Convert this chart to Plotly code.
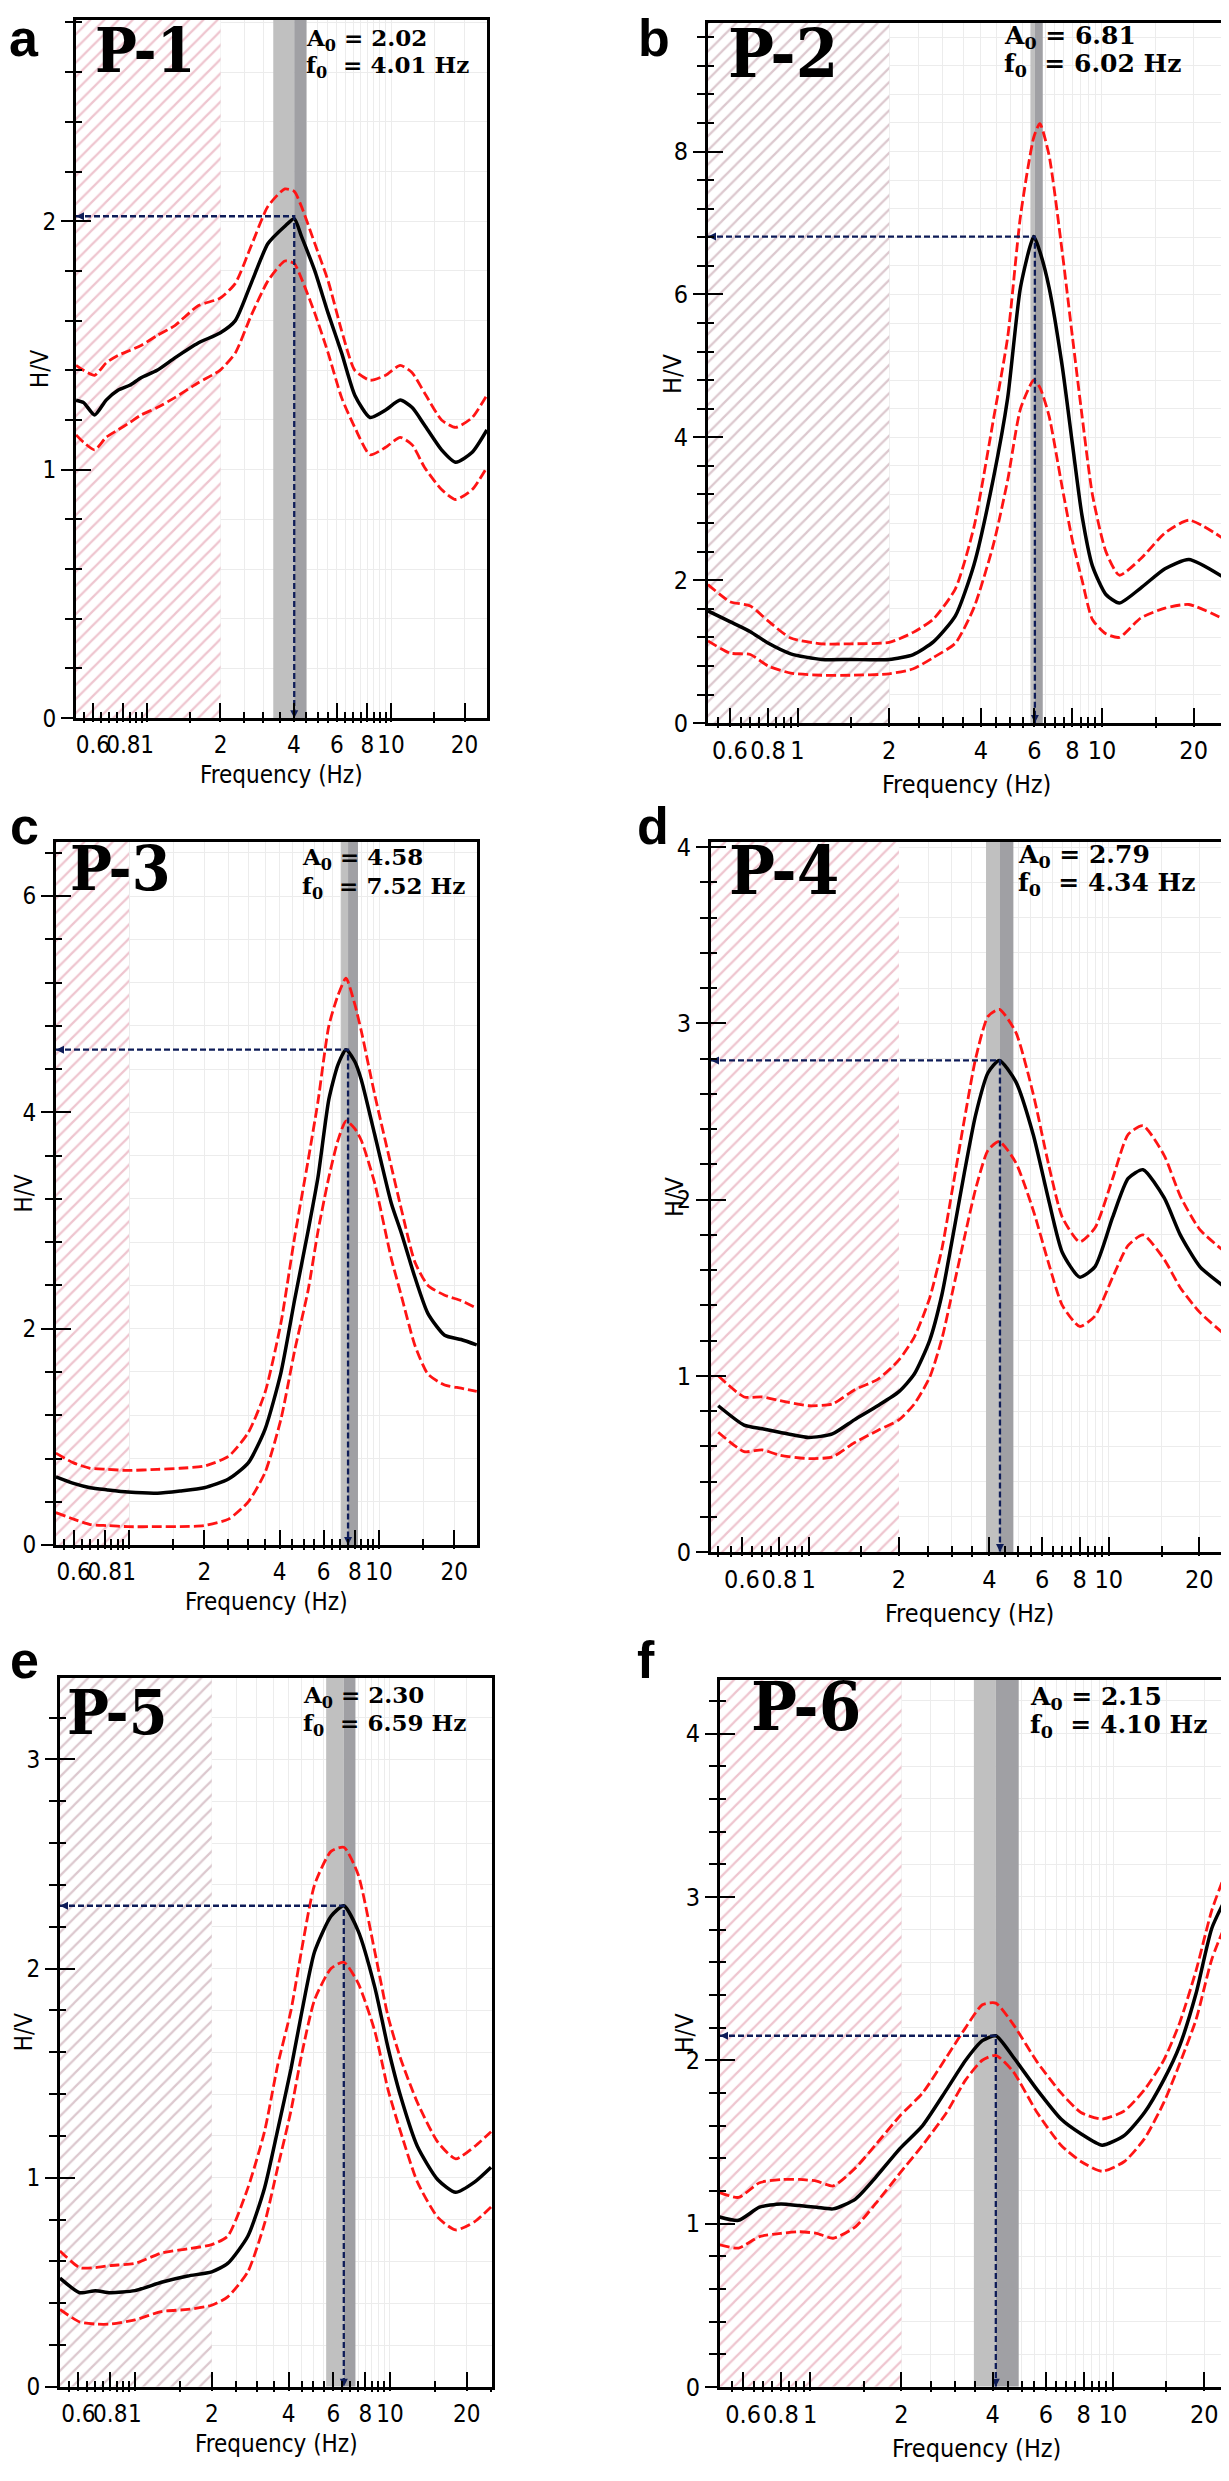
import math
import plotly.graph_objects as go

W, H = 1229, 2481

# ---------------- data ----------------
panel_names = ["P-1", "P-2", "P-3", "P-4", "P-5", "P-6"]
panel_letters = ["a", "b", "c", "d", "e", "f"]
A0 = [2.02, 6.81, 4.58, 2.79, 2.30, 2.15]
F0 = [4.01, 6.02, 7.52, 4.34, 6.59, 4.10]
F_LO = [3.29, 5.82, 7.05, 3.90, 5.62, 3.47]
F_HI = [4.50, 6.39, 8.24, 4.81, 7.32, 4.88]
WINDOW_END = [2, 2, 1, 2, 2, 2]

freq_p1 = [0.512, 0.55, 0.61, 0.68, 0.76, 0.85, 0.945, 1.1, 1.3, 1.62, 1.99, 2.3, 2.67, 3.13, 3.67, 4.01, 4.29, 4.87, 5.52, 6.27, 7.1, 8.2, 9.5, 10.9, 12.2, 13.7, 16.1, 18.4, 21.5, 24.7]
mean_p1 = [1.28, 1.27, 1.22, 1.28, 1.32, 1.34, 1.37, 1.40, 1.45, 1.51, 1.55, 1.60, 1.75, 1.91, 1.98, 2.01, 1.94, 1.80, 1.63, 1.47, 1.30, 1.21, 1.24, 1.28, 1.25, 1.18, 1.08, 1.03, 1.07, 1.16]
hi_p1 = [1.42, 1.40, 1.38, 1.43, 1.46, 1.48, 1.50, 1.54, 1.58, 1.66, 1.69, 1.75, 1.90, 2.06, 2.13, 2.12, 2.06, 1.91, 1.76, 1.56, 1.40, 1.36, 1.38, 1.42, 1.39, 1.31, 1.20, 1.17, 1.21, 1.30]
lo_p1 = [1.14, 1.11, 1.08, 1.13, 1.16, 1.19, 1.22, 1.25, 1.29, 1.35, 1.40, 1.47, 1.62, 1.76, 1.84, 1.83, 1.77, 1.63, 1.47, 1.29, 1.17, 1.06, 1.09, 1.13, 1.10, 1.01, 0.92, 0.88, 0.92, 1.01]

freq_p2 = [0.508, 0.6, 0.7, 0.8, 0.95, 1.2, 1.5, 2.0, 2.4, 2.8, 3.3, 3.8, 4.4, 4.9, 5.4, 5.97, 6.25, 6.7, 7.4, 8.0, 8.6, 9.3, 10.3, 11.4, 13.4, 16.1, 19.3, 25.3]
mean_p2 = [1.57, 1.42, 1.28, 1.12, 0.97, 0.89, 0.89, 0.89, 0.96, 1.14, 1.50, 2.22, 3.43, 4.55, 6.10, 6.81, 6.60, 6.10, 5.00, 3.90, 2.90, 2.20, 1.80, 1.68, 1.89, 2.16, 2.29, 2.03]
hi_p2 = [1.94, 1.70, 1.64, 1.43, 1.19, 1.11, 1.11, 1.13, 1.27, 1.46, 1.88, 2.75, 4.25, 5.40, 7.10, 8.20, 8.39, 7.95, 6.60, 5.40, 4.30, 3.20, 2.40, 2.07, 2.30, 2.66, 2.84, 2.57]
lo_p2 = [1.15, 0.98, 0.96, 0.80, 0.70, 0.67, 0.67, 0.69, 0.76, 0.92, 1.12, 1.62, 2.50, 3.40, 4.40, 4.80, 4.70, 4.30, 3.30, 2.55, 2.00, 1.45, 1.25, 1.20, 1.47, 1.61, 1.66, 1.45]

freq_p3 = [0.51, 0.6, 0.7, 0.82, 0.99, 1.3, 1.6, 2.0, 2.5, 3.0, 3.5, 4.05, 4.6, 5.2, 5.7, 6.3, 6.85, 7.38, 8.0, 8.5, 9.6, 11.2, 12.3, 13.9, 15.7, 18.3, 21.3, 24.6]
mean_p3 = [0.63, 0.57, 0.53, 0.51, 0.49, 0.48, 0.50, 0.53, 0.61, 0.76, 1.07, 1.59, 2.27, 2.90, 3.40, 4.12, 4.44, 4.58, 4.47, 4.30, 3.80, 3.16, 2.88, 2.48, 2.14, 1.94, 1.90, 1.85]
hi_p3 = [0.85, 0.76, 0.71, 0.70, 0.69, 0.70, 0.71, 0.73, 0.82, 1.04, 1.41, 2.05, 2.85, 3.55, 4.10, 4.80, 5.08, 5.24, 5.00, 4.75, 4.17, 3.50, 3.10, 2.62, 2.40, 2.31, 2.26, 2.19]
lo_p3 = [0.30, 0.24, 0.19, 0.18, 0.17, 0.17, 0.17, 0.18, 0.24, 0.40, 0.67, 1.16, 1.80, 2.35, 2.90, 3.40, 3.74, 3.92, 3.85, 3.74, 3.35, 2.65, 2.30, 1.85, 1.58, 1.48, 1.45, 1.42]

freq_p4 = [0.50, 0.61, 0.70, 0.80, 1.0, 1.2, 1.42, 1.7, 2.0, 2.25, 2.53, 2.78, 3.0, 3.3, 3.6, 3.96, 4.32, 4.9, 5.6, 6.3, 7.0, 8.0, 9.0, 10.3, 11.6, 13.0, 15.3, 17.3, 20.1, 24.5]
mean_p4 = [0.83, 0.72, 0.70, 0.68, 0.65, 0.67, 0.75, 0.83, 0.91, 1.01, 1.20, 1.46, 1.76, 2.15, 2.48, 2.72, 2.79, 2.67, 2.37, 2.00, 1.70, 1.56, 1.62, 1.90, 2.12, 2.17, 2.01, 1.80, 1.62, 1.50]
hi_p4 = [1.00, 0.88, 0.88, 0.86, 0.83, 0.84, 0.92, 0.98, 1.09, 1.22, 1.44, 1.72, 2.04, 2.45, 2.80, 3.04, 3.08, 2.95, 2.60, 2.20, 1.90, 1.76, 1.84, 2.12, 2.37, 2.42, 2.25, 2.02, 1.83, 1.70]
lo_p4 = [0.68, 0.57, 0.58, 0.55, 0.53, 0.54, 0.62, 0.69, 0.75, 0.84, 0.99, 1.21, 1.46, 1.78, 2.06, 2.28, 2.33, 2.21, 1.94, 1.64, 1.40, 1.28, 1.34, 1.56, 1.74, 1.80, 1.66, 1.50, 1.36, 1.23]

freq_p5 = [0.508, 0.607, 0.70, 0.80, 1.0, 1.27, 1.61, 2.0, 2.31, 2.77, 3.22, 3.63, 4.09, 4.49, 5.06, 5.87, 6.59, 7.5, 8.72, 9.83, 11.0, 12.8, 15.4, 18.1, 21.5, 24.9]
mean_p5 = [0.52, 0.45, 0.46, 0.45, 0.46, 0.50, 0.53, 0.55, 0.59, 0.72, 0.95, 1.23, 1.52, 1.78, 2.08, 2.25, 2.30, 2.18, 1.91, 1.62, 1.39, 1.15, 0.99, 0.93, 0.98, 1.05]
hi_p5 = [0.65, 0.57, 0.57, 0.58, 0.59, 0.64, 0.66, 0.68, 0.72, 0.95, 1.22, 1.54, 1.80, 2.08, 2.40, 2.56, 2.58, 2.45, 2.08, 1.77, 1.57, 1.36, 1.17, 1.09, 1.15, 1.22]
lo_p5 = [0.37, 0.31, 0.30, 0.30, 0.32, 0.36, 0.37, 0.39, 0.43, 0.55, 0.78, 1.05, 1.32, 1.58, 1.85, 2.00, 2.03, 1.93, 1.70, 1.42, 1.22, 0.98, 0.81, 0.75, 0.79, 0.86]

freq_p6 = [0.502, 0.58, 0.68, 0.80, 0.92, 1.05, 1.19, 1.41, 1.64, 1.98, 2.35, 2.82, 3.26, 3.7, 4.1, 4.68, 5.61, 6.73, 7.83, 9.2, 10.9, 12.7, 14.7, 16.6, 18.8, 21.2, 24.6]
mean_p6 = [1.04, 1.02, 1.10, 1.12, 1.11, 1.10, 1.09, 1.15, 1.28, 1.46, 1.60, 1.82, 2.00, 2.12, 2.15, 2.02, 1.82, 1.64, 1.55, 1.48, 1.54, 1.68, 1.88, 2.09, 2.41, 2.81, 3.06]
hi_p6 = [1.19, 1.16, 1.25, 1.27, 1.27, 1.26, 1.23, 1.34, 1.48, 1.66, 1.80, 2.02, 2.20, 2.34, 2.35, 2.22, 1.99, 1.80, 1.68, 1.64, 1.69, 1.82, 2.00, 2.23, 2.55, 2.92, 3.24]
lo_p6 = [0.87, 0.85, 0.92, 0.94, 0.95, 0.94, 0.91, 0.98, 1.12, 1.31, 1.48, 1.68, 1.88, 2.00, 2.03, 1.93, 1.68, 1.48, 1.38, 1.32, 1.38, 1.52, 1.74, 1.98, 2.25, 2.62, 2.92]

FREQ = [freq_p1, freq_p2, freq_p3, freq_p4, freq_p5, freq_p6]
MEAN = [mean_p1, mean_p2, mean_p3, mean_p4, mean_p5, mean_p6]
HI = [hi_p1, hi_p2, hi_p3, hi_p4, hi_p5, hi_p6]
LO = [lo_p1, lo_p2, lo_p3, lo_p4, lo_p5, lo_p6]

x_ticks = [0.6, 0.8, 1, 2, 4, 6, 8, 10, 20]
x_tick_text = ["0.6", "0.8", "1", "2", "4", "6", "8", "10", "20"]
x_minor = [0.5, 0.55, 0.65, 0.7, 0.75, 0.85, 0.9, 0.95, 1.5, 2.5, 3, 3.5, 4.5, 5, 5.5,
           6.5, 7, 7.5, 8.5, 9, 9.5, 15, 25]
y_major = [[0, 1, 2], [0, 2, 4, 6, 8], [0, 2, 4, 6], [0, 1, 2, 3, 4], [0, 1, 2, 3], [0, 1, 2, 3, 4]]
y_minor_step = [0.2, 0.4, 0.4, 0.2, 0.2, 0.2]
y_top = [2.81, 9.8, 6.5, 4.03, 3.39, 4.33]
x_log_range = [[-0.291, 1.393], [-0.294, 1.404], [-0.292, 1.392],
               [-0.325, 1.397], [-0.294, 1.400], [-0.298, 1.396]]

# ---------------- layout geometry (px: left, right, top, bottom) ----------------
BOX = [(68, 479, 3, 708), (700, 1217, 6, 713), (48, 469, 833, 1543),
       (703, 1220, 833, 1550), (52, 484, 1677, 2393), (712, 1225, 1679, 2393)]
LETTER_POS = [(16, 50), (646, 50), (16, 845), (645, 845), (16, 1688), (638, 1688)]
NAME_POS = [(137, 68), (775, 74), (112, 894), (776, 899), (109, 1746), (798, 1743)]
A0_POS = [(296, 31, 59), (994, 31, 59), (292, 859, 888), (1008, 858, 886),
          (293, 1705, 1733), (1020, 1708, 1736)]
FONT_SCALE = [1.0, 1.06, 1.0, 1.06, 1.0, 1.06]
TITLE_BASE = [68, 73, 68, 73, 68, 73]

HATCH_COL = ["rgb(222,140,160)", "rgb(185,145,158)", "rgb(222,140,160)",
             "rgb(222,140,160)", "rgb(185,145,158)", "rgb(222,140,160)"]
BAND_LIGHT = "rgb(192,192,192)"
BAND_DARK = "rgb(160,160,164)"
GRID = "rgb(236,236,236)"
RED = "rgb(255,20,20)"
NAVY = "rgb(14,28,88)"
SANS = "Liberation Sans Narrow, DejaVu Sans Condensed, Arial Narrow, sans-serif"
SERIF = "DejaVu Serif Condensed, DejaVu Serif, serif"


def px_x(v):
    return v / W


def px_y(v):
    return 1 - v / H


fig = go.Figure()
layout = dict(width=W, height=H, margin=dict(l=0, r=0, t=0, b=0),
              paper_bgcolor="white", plot_bgcolor="white", showlegend=False)
ann = []

for i in range(6):
    n = i + 1
    xa = "x" if n == 1 else f"x{n}"
    ya = "y" if n == 1 else f"y{n}"
    xo, yo = f"x{n + 6}", f"y{n + 6}"
    L, R, T, B = BOX[i]
    s = FONT_SCALE[i]
    tickfont = dict(family=SANS, size=round(24 * s), color="black")
    xmin = 10 ** x_log_range[i][0]
    ymax = y_top[i]
    common = dict(xaxis=xa, yaxis=ya, hoverinfo="skip", showlegend=False)

    # f0 +/- sigma bands
    fig.add_trace(go.Scatter(x=[F_LO[i], F0[i], F0[i], F_LO[i], F_LO[i]], y=[0, 0, ymax, ymax, 0],
                             fill="toself", fillcolor=BAND_LIGHT, mode="none", **common))
    fig.add_trace(go.Scatter(x=[F0[i], F_HI[i], F_HI[i], F0[i], F0[i]], y=[0, 0, ymax, ymax, 0],
                             fill="toself", fillcolor=BAND_DARK, mode="none", **common))
    # excluded window (hatched)
    fig.add_trace(go.Scatter(x=[xmin, WINDOW_END[i], WINDOW_END[i], xmin, xmin], y=[0, 0, ymax, ymax, 0],
                             fill="toself", fillcolor="white", mode="none",
                             fillpattern=dict(shape="/", fgcolor=HATCH_COL[i], bgcolor="white",
                                              size=10, solidity=0.22),
                             **common))
    # std curves and mean curve
    for arr in (HI[i], LO[i]):
        fig.add_trace(go.Scatter(x=FREQ[i], y=arr, mode="lines",
                                 line=dict(color=RED, width=2.8, dash="10px,4px", shape="spline", smoothing=0.6),
                                 **common))
    fig.add_trace(go.Scatter(x=FREQ[i], y=MEAN[i], mode="lines",
                             line=dict(color="black", width=3.5, shape="spline", smoothing=0.6), **common))
    # peak guide lines with arrow heads
    fig.add_trace(go.Scatter(x=[xmin, F0[i], F0[i]], y=[A0[i], A0[i], 0], mode="lines",
                             line=dict(color=NAVY, width=2.3, dash="6px,3px"), **common))
    fig.add_trace(go.Scatter(x=[xmin, F0[i]], y=[A0[i], 0], mode="markers", cliponaxis=False,
                             marker=dict(symbol=["arrow-left", "arrow-down"], size=8, color=NAVY,
                                         line=dict(width=0)),
                             **common))
    # dummy trace for overlay tick axes
    fig.add_trace(go.Scatter(x=[F0[i]], y=[0.1], mode="markers", marker=dict(opacity=0),
                             xaxis=xo, yaxis=yo, hoverinfo="skip", showlegend=False))

    xkey = "xaxis" if n == 1 else f"xaxis{n}"
    ykey = "yaxis" if n == 1 else f"yaxis{n}"
    layout[xkey] = dict(type="log", range=x_log_range[i], domain=[px_x(L), px_x(R)], anchor=ya,
                        showline=True, linecolor="black", linewidth=3, mirror=True,
                        ticks="inside", ticklen=15, tickwidth=2, tickcolor="black",
                        tickmode="array", tickvals=x_ticks, ticktext=x_tick_text, tickfont=tickfont,
                        tickangle=0, ticklabelstandoff=3,
                        showgrid=True, gridcolor=GRID, gridwidth=1, zeroline=False,
                        minor=dict(tickmode="array", tickvals=x_minor, ticks="inside", ticklen=6,
                                   tickwidth=1.5, tickcolor="black", showgrid=True, gridcolor=GRID,
                                   gridwidth=1))
    layout[ykey] = dict(range=[0, ymax], domain=[px_y(B), px_y(T)], anchor=xa,
                        showline=True, linecolor="black", linewidth=3, mirror=True,
                        ticks="outside", ticklen=12, tickwidth=2, tickcolor="black",
                        tickmode="array", tickvals=y_major[i], tickfont=tickfont, tickangle=0,
                        showgrid=True, gridcolor=GRID, gridwidth=1, zeroline=False,
                        minor=dict(dtick=y_minor_step[i], ticks="outside", ticklen=8, tickwidth=2,
                                   tickcolor="black", showgrid=True, gridcolor=GRID, gridwidth=1))
    layout[f"xaxis{n + 6}"] = dict(type="log", range=x_log_range[i], overlaying=xa, anchor=ya, side="bottom",
                                   showline=False, showgrid=False, zeroline=False,
                                   ticks="outside", ticklen=3, tickwidth=2, tickcolor="black",
                                   tickmode="array", tickvals=x_ticks, showticklabels=False,
                                   minor=dict(tickmode="array", tickvals=x_minor, ticks="outside",
                                              ticklen=4, tickwidth=1.5, tickcolor="black", showgrid=False))
    layout[f"yaxis{n + 6}"] = dict(range=[0, ymax], overlaying=ya, anchor=xa, side="left",
                                   showline=False, showgrid=False, zeroline=False,
                                   ticks="inside", ticklen=15, tickwidth=2, tickcolor="black",
                                   tickmode="array", tickvals=y_major[i], showticklabels=False,
                                   minor=dict(dtick=y_minor_step[i], ticks="inside", ticklen=6,
                                              tickwidth=2, tickcolor="black", showgrid=False))

    # texts (top of text box ~ baseline - 1.15 * font size)
    lx, lb = LETTER_POS[i]
    ann.append(dict(x=px_x(lx), y=px_y(lb - 1.15 * 52), xref="paper", yref="paper",
                    xanchor="center", yanchor="top", showarrow=False,
                    text=f"<b>{panel_letters[i]}</b>",
                    font=dict(family="Liberation Sans, Arial, sans-serif", size=52, color="black")))
    nx, nb = NAME_POS[i]
    nsz = round(62 * (1.1 if s > 1 else 1.0))
    ann.append(dict(x=px_x(nx), y=px_y(nb - 1.18 * nsz), xref="paper", yref="paper",
                    xanchor="center", yanchor="top", showarrow=False,
                    text=f"<b>{panel_names[i]}</b>",
                    font=dict(family=SERIF, size=nsz, color="black")))
    ax0, b1, b2 = A0_POS[i]
    asz = round(23 * (1.1 if s > 1 else 1.0))
    ann.append(dict(x=px_x(ax0), y=px_y(b1 - 1.15 * asz), xref="paper", yref="paper",
                    xanchor="left", yanchor="top", showarrow=False,
                    text=f"<b>A<sub>0</sub> = {A0[i]:.2f}</b>",
                    font=dict(family="DejaVu Serif, serif", size=asz, color="black")))
    ann.append(dict(x=px_x(ax0), y=px_y(b2 - 1.15 * asz), xref="paper", yref="paper",
                    xanchor="left", yanchor="top", showarrow=False,
                    text=f"<b>f<sub>0</sub>\u00a0\u00a0= {F0[i]:.2f} Hz</b>",
                    font=dict(family="DejaVu Serif, serif", size=asz, color="black")))
    # axis titles
    tsz = round(24 * s)
    ann.append(dict(x=px_x(max(L - 36, 16)), y=px_y((T + B) / 2), xref="paper", yref="paper",
                    xanchor="center", yanchor="middle", showarrow=False, textangle=-90,
                    text="H/V", font=dict(family=SANS, size=tsz, color="black")))
    ann.append(dict(x=px_x((L + R) / 2), y=px_y(B + TITLE_BASE[i] - 1.1 * tsz), xref="paper", yref="paper",
                    xanchor="center", yanchor="top", showarrow=False,
                    text="Frequency (Hz)", font=dict(family=SANS, size=tsz, color="black")))

layout["annotations"] = ann
fig.update_layout(**layout)
fig.write_html("out.html")
